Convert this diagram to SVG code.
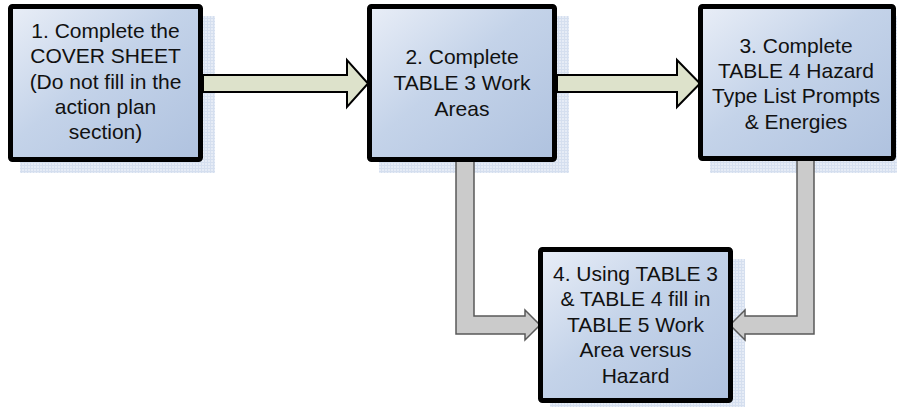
<svg xmlns="http://www.w3.org/2000/svg" width="897" height="407" viewBox="0 0 897 407">
<defs>
<linearGradient id="boxfill" x1="0" y1="0" x2="1" y2="1">
<stop offset="0" stop-color="#e9eef7"/>
<stop offset="0.45" stop-color="#c4d3e9"/>
<stop offset="1" stop-color="#afc2df"/>
</linearGradient>
<pattern id="lattice" width="3" height="3" patternUnits="userSpaceOnUse">
<rect width="3" height="3" fill="#e6ecf6"/>
<rect width="3" height="1" fill="#d5dfef"/>
<rect width="1" height="3" fill="#d5dfef"/>
</pattern>
</defs>
<style>
.shadow{fill:url(#lattice);}
.box{fill:url(#boxfill);stroke:#000;stroke-width:5;}
.lbl{font-family:"Liberation Sans",Arial,sans-serif;font-size:21px;fill:#111;text-anchor:middle;}
.green{fill:#dde2cb;stroke:#000;stroke-width:2;stroke-linejoin:miter;}
.gray{fill:#cbcbcb;stroke:#595959;stroke-width:1.5;}
</style>
<g id="shadows">
<rect class="shadow" x="20" y="16" width="195" height="157"/>
<rect class="shadow" x="379" y="16" width="190" height="157"/>
<rect class="shadow" x="710" y="16" width="187" height="157"/>
<rect class="shadow" x="550" y="259" width="195" height="148"/>
</g>
<g id="connectors">
<path class="green" d="M203,75 L347,75 L347,60 L368,83.5 L347,107 L347,92 L203,92 Z"/>
<path class="green" d="M557,75 L677,75 L677,60 L700,83.5 L677,107 L677,92 L557,92 Z"/>
<path class="gray" d="M456,158 L474,158 L474,316 L525,316 L525,310 L540,325 L525,340 L525,334 L456,334 Z"/>
<path class="gray" d="M797,158 L814,158 L814,334 L745,334 L745,340 L730,325 L745,310 L745,316 L797,316 Z"/>
</g>
<g id="node1">
<rect class="box" x="10.5" y="6.5" width="190" height="153" rx="2"/>
<text class="lbl" x="105.5" y="37.5">1. Complete the</text>
<text class="lbl" x="105.5" y="63">COVER SHEET</text>
<text class="lbl" x="105.5" y="88.5">(Do not fill in the</text>
<text class="lbl" x="105.5" y="113.5">action plan</text>
<text class="lbl" x="105.5" y="138.5">section)</text>
</g>
<g id="node2">
<rect class="box" x="369.5" y="6.5" width="185" height="153" rx="2"/>
<text class="lbl" x="462" y="63.5">2. Complete</text>
<text class="lbl" x="462" y="89.5">TABLE 3 Work</text>
<text class="lbl" x="462" y="115.5">Areas</text>
</g>
<g id="node3">
<rect class="box" x="700.5" y="6.5" width="193" height="152" rx="2"/>
<text class="lbl" x="796" y="52.5">3. Complete</text>
<text class="lbl" x="796" y="77.5">TABLE 4 Hazard</text>
<text class="lbl" x="796" y="103">Type List Prompts</text>
<text class="lbl" x="796" y="128.5">&amp; Energies</text>
</g>
<g id="node4">
<rect class="box" x="540.5" y="249.5" width="190" height="151" rx="2"/>
<text class="lbl" x="635.5" y="280.5">4. Using TABLE 3</text>
<text class="lbl" x="635.5" y="306">&amp; TABLE 4 fill in</text>
<text class="lbl" x="635.5" y="331.5">TABLE 5 Work</text>
<text class="lbl" x="635.5" y="357">Area versus</text>
<text class="lbl" x="635.5" y="382.5">Hazard</text>
</g>
</svg>
